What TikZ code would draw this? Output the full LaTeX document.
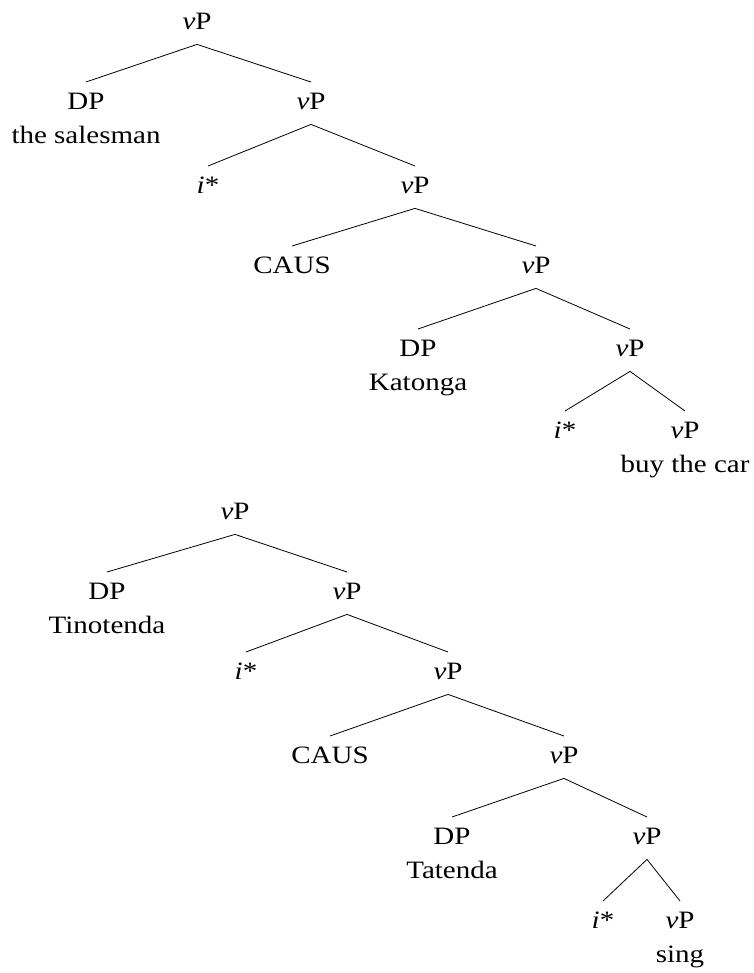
\documentclass[tikz,border=0pt]{standalone}
\usepackage{fontspec}
\setmainfont{Liberation Serif}[FakeStretch=1.16]
\newcommand{\twolines}[2]{\begin{tabular}[t]{@{}c@{}}#1\\#2\end{tabular}}
\begin{document}
\begin{tikzpicture}[x=1pt,y=-1pt,
  cat/.style={anchor=north, inner xsep=0pt, inner ysep=11pt, text height=16.5pt, text depth=3.5pt, font=\fontsize{25}{34}\selectfont},
  leaf/.style={anchor=north, inner xsep=0pt, inner ysep=11pt, text height=16.5pt, font=\fontsize{25}{34}\selectfont},
  branch/.style={line width=0.8pt}]
\useasboundingbox (0,0) rectangle (753,973);
% top tree
\node[cat] (a0) at (197,2) {\textit{v}P};
\node[leaf] (a1) at (86,82) {\twolines{DP}{the salesman}};
\node[cat] (a2) at (311,82) {\textit{v}P};
\node[cat] (a3) at (208,166) {\textit{i}*};
\node[cat] (a4) at (415,166) {\textit{v}P};
\node[cat] (a5) at (292,246) {CAUS};
\node[cat] (a6) at (536,246) {\textit{v}P};
\node[leaf] (a7) at (418,329) {\twolines{DP}{Katonga}};
\node[cat] (a8) at (630,329) {\textit{v}P};
\node[cat] (a9) at (565,411) {\textit{i}*};
\node[leaf] (a10) at (685,411) {\twolines{\textit{v}P}{buy the car}};
\draw[branch] (a0.south) -- (a1.north);
\draw[branch] (a0.south) -- (a2.north);
\draw[branch] (a2.south) -- (a3.north);
\draw[branch] (a2.south) -- (a4.north);
\draw[branch] (a4.south) -- (a5.north);
\draw[branch] (a4.south) -- (a6.north);
\draw[branch] (a6.south) -- (a7.north);
\draw[branch] (a6.south) -- (a8.north);
\draw[branch] (a8.south) -- (a9.north);
\draw[branch] (a8.south) -- (a10.north);
% bottom tree
\node[cat] (b0) at (235,492) {\textit{v}P};
\node[leaf] (b1) at (107,572) {\twolines{DP}{Tinotenda}};
\node[cat] (b2) at (347,572) {\textit{v}P};
\node[cat] (b3) at (246,652) {\textit{i}*};
\node[cat] (b4) at (448,652) {\textit{v}P};
\node[cat] (b5) at (330,736) {CAUS};
\node[cat] (b6) at (564,736) {\textit{v}P};
\node[leaf] (b7) at (452,817) {\twolines{DP}{Tatenda}};
\node[cat] (b8) at (647,817) {\textit{v}P};
\node[cat] (b9) at (603,901) {\textit{i}*};
\node[leaf] (b10) at (680,901) {\twolines{\textit{v}P}{sing}};
\draw[branch] (b0.south) -- (b1.north);
\draw[branch] (b0.south) -- (b2.north);
\draw[branch] (b2.south) -- (b3.north);
\draw[branch] (b2.south) -- (b4.north);
\draw[branch] (b4.south) -- (b5.north);
\draw[branch] (b4.south) -- (b6.north);
\draw[branch] (b6.south) -- (b7.north);
\draw[branch] (b6.south) -- (b8.north);
\draw[branch] (b8.south) -- (b9.north);
\draw[branch] (b8.south) -- (b10.north);
\end{tikzpicture}
\end{document}
